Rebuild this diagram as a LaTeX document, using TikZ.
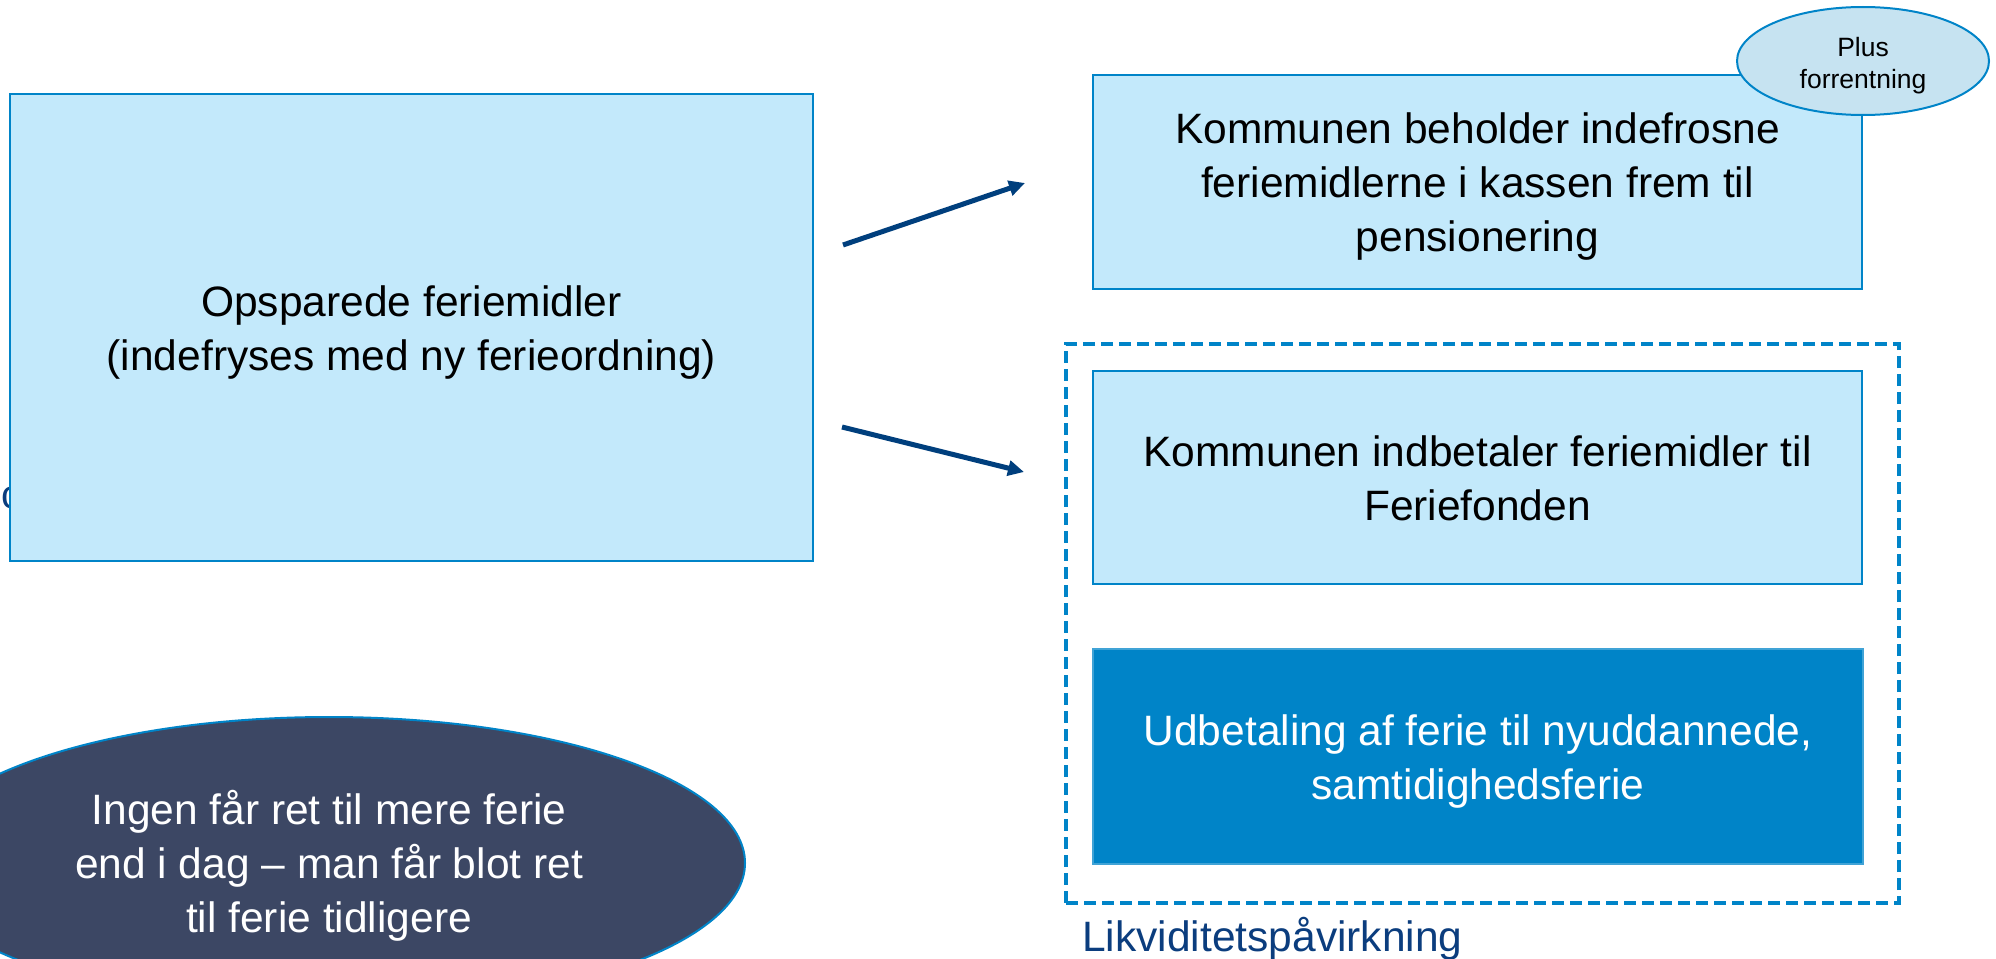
\documentclass[tikz,border=0pt]{standalone}
\usepackage{fontspec}
\setmainfont{Liberation Sans}
\usetikzlibrary{arrows.meta,shapes.geometric}
\definecolor{lightfill}{HTML}{C3E9FB}
\definecolor{edgeblue}{HTML}{0084C8}
\definecolor{midblue}{HTML}{0084C8}
\definecolor{slate}{HTML}{3C4764}
\definecolor{bubble}{HTML}{C6E3F1}
\definecolor{arrowblue}{HTML}{003F7D}
\definecolor{labelblue}{HTML}{0B3D7E}
\newcommand\firstlinestrut{\rule{0pt}{43pt}}
\newcommand\lastlinestrut{\rule[-12pt]{0pt}{0pt}}
\newcommand\smallfirststrut{\rule{0pt}{30pt}}
\newcommand\smalllaststrut{\rule[-6.6pt]{0pt}{0pt}}
\tikzset{
  bigtext/.style={font=\fontsize{42.5}{54}\selectfont, align=center},
  lightbox/.style={draw=edgeblue, fill=lightfill, line width=2pt, inner sep=0pt, bigtext, text=black},
  darkbox/.style={draw=edgeblue!75!white, fill=midblue, line width=1.5pt, inner sep=0pt, bigtext, text=white},
  groupbox/.style={draw=edgeblue, line width=4pt, dash pattern=on 12pt off 6pt, inner sep=0pt},
  flow/.style={draw=arrowblue, line width=5pt, -{Triangle[length=16pt,width=15pt]}},
  bubblenode/.style={ellipse, draw=edgeblue, fill=bubble, line width=2pt, inner sep=0pt,
     font=\fontsize{26.5}{32}\selectfont, align=center},
  noteellipse/.style={ellipse, draw=edgeblue, fill=slate, line width=2pt, inner sep=0pt, bigtext, text=white}
}
\begin{document}
\begin{tikzpicture}[x=1pt,y=-1pt]
\clip (0,0) rectangle (1996,958);
\fill[white] (0,0) rectangle (1996,958);
% partly hidden letter
\node[anchor=west, inner sep=0pt, text=labelblue, font=\fontsize{40}{46}\selectfont] (hidden) at (1,498) {c};
% left box
\node[lightbox, minimum width=803pt, minimum height=467pt] (src) at (411.5,327.5)
  {\firstlinestrut Opsparede feriemidler\\(indefryses med ny ferieordning)\lastlinestrut};
% arrows
\coordinate (a1s) at (843,245);
\coordinate (a1e) at (1025,183);
\coordinate (a2s) at (842,427);
\coordinate (a2e) at (1024,472);
\draw[flow] (a1s) -- (a1e);
\draw[flow] (a2s) -- (a2e);
% dashed group
\node[groupbox, minimum width=833pt, minimum height=559pt] (grp) at (1482.5,623.5) {};
% right boxes
\node[lightbox, minimum width=769pt, minimum height=214pt] (keep) at (1477.5,182)
  {\firstlinestrut Kommunen beholder indefrosne\\feriemidlerne i kassen frem til\\pensionering\lastlinestrut};
\node[lightbox, minimum width=769pt, minimum height=213pt] (pay) at (1477.5,477.5)
  {\firstlinestrut Kommunen indbetaler feriemidler til\\Feriefonden\lastlinestrut};
\node[darkbox, minimum width=770pt, minimum height=215pt] (out) at (1478,756.5)
  {\firstlinestrut Udbetaling af ferie til nyuddannede,\\samtidighedsferie\lastlinestrut};
% bubble
\node[bubblenode, minimum width=252pt, minimum height=108pt] (plus) at (1863,61)
  {\smallfirststrut Plus\\forrentning\smalllaststrut};
% group label
\node[anchor=base west, inner sep=0pt, text=labelblue, bigtext] (lbl) at (1082,951) {Likviditetspåvirkning};
% note ellipse
\node[noteellipse, minimum width=832pt, minimum height=292pt] (note) at (329,863)
  {\firstlinestrut Ingen får ret til mere ferie\\end i dag – man får blot ret\\til ferie tidligere\lastlinestrut};
\end{tikzpicture}
\end{document}
